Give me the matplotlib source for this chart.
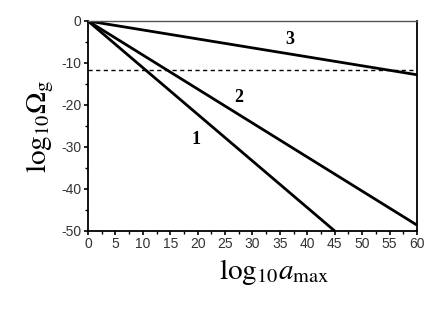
import matplotlib
matplotlib.use('Agg')
from matplotlib import pyplot as plt
from matplotlib.ticker import MultipleLocator

plt.rcParams['mathtext.fontset'] = 'stix'
plt.rcParams['axes.unicode_minus'] = False

# end points of the three lines (all start at origin)
xLine1 = [0, 45]
yLine1 = [0, -50]
xLine2 = [0, 60]
yLine2 = [0, -48.6]
xLine3 = [0, 60]
yLine3 = [0, -12.8]
dashedLevel = -11.6

curveLabels = ['1', '2', '3']
labelX = [19.7, 27.5, 36.8]
labelY = [-28.3, -18.3, -4.3]

fig = plt.figure(figsize=(4.39, 3.09), dpi=100)
ax = fig.add_axes([88/439, 1 - 231/309, 329/439, 210/309])

ax.plot(xLine1, yLine1, color='black', lw=2.0, solid_capstyle='butt')
ax.plot(xLine2, yLine2, color='black', lw=2.0, solid_capstyle='butt')
ax.plot(xLine3, yLine3, color='black', lw=2.0, solid_capstyle='butt')
ax.axhline(dashedLevel, color='black', lw=1.0, ls=(0, (3, 2.5)))

for t, x, y in zip(curveLabels, labelX, labelY):
    ax.text(x, y, t, fontsize=13, fontweight='bold', family='Liberation Serif',
            ha='center', va='center')

ax.set_xlim(0, 60)
ax.set_ylim(-50, 0)
ax.xaxis.set_major_locator(MultipleLocator(5))
ax.xaxis.set_minor_locator(MultipleLocator(2.5))
ax.yaxis.set_major_locator(MultipleLocator(10))
ax.yaxis.set_minor_locator(MultipleLocator(5))
ax.tick_params(which='major', direction='out', length=3, width=1.2, labelsize=10, pad=1.5,
               labelcolor='#333333')
ax.tick_params(which='minor', direction='out', length=2, width=1.0)
for lab in ax.get_xticklabels() + ax.get_yticklabels():
    lab.set_family('Liberation Sans')
for s in ['left', 'bottom', 'right']:
    ax.spines[s].set_linewidth(1.3)
ax.spines['top'].set_linewidth(1.0)
ax.spines['top'].set_color('#555555')

ax.set_xlabel(r'$\mathrm{log}_{10}a_{\mathrm{max}}$', fontsize=21)
ax.xaxis.set_label_coords(0.565, -0.125)
ax.set_ylabel(r'$\mathrm{log}_{10}\Omega_{\mathrm{g}}$', fontsize=21, labelpad=4)

fig.savefig('out.png', dpi=100)
